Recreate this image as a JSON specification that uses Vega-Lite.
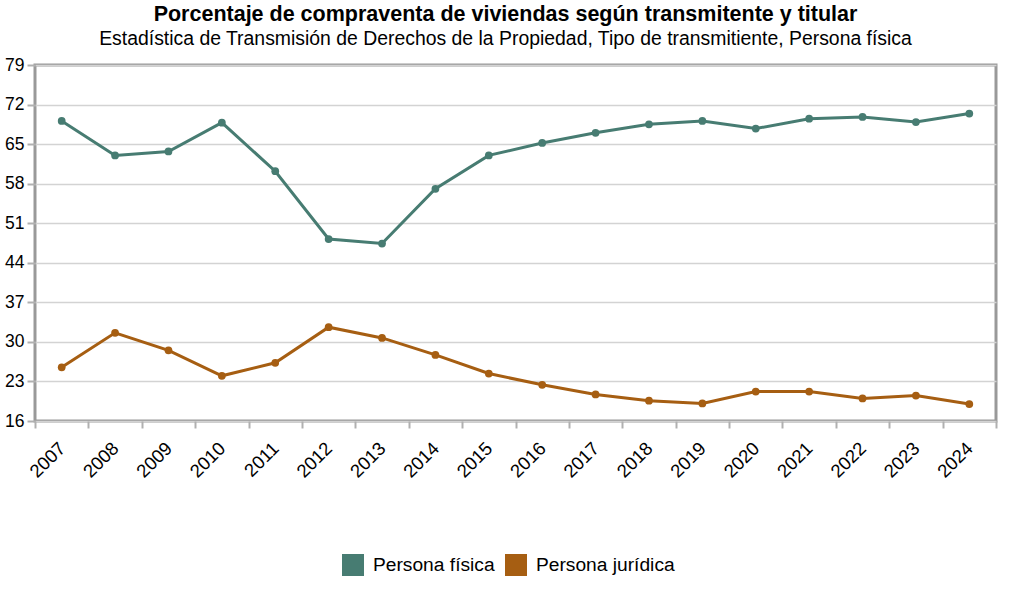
{
  "$schema": "https://vega.github.io/schema/vega-lite/v6.json",
  "width": 961,
  "height": 356,
  "autosize": {"type": "none"},
  "padding": {"left": 35, "top": 65, "right": 15, "bottom": 179},
  "background": "white",
  "title": {
    "text": "Porcentaje de compraventa de viviendas según transmitente y titular",
    "subtitle": "Estadística de Transmisión de Derechos de la Propiedad, Tipo de transmitiente, Persona física",
    "anchor": "middle",
    "frame": "group",
    "dx": -10,
    "offset": 8,
    "font": "Liberation Sans",
    "fontSize": 21.5,
    "fontWeight": "bold",
    "color": "#000000",
    "subtitleFont": "Liberation Sans",
    "subtitleFontSize": 19.4,
    "subtitleColor": "#000000",
    "subtitlePadding": 4
  },
  "data": {
    "values": [
      {"year": "2007", "serie": "Persona física", "valor": 69.1},
      {"year": "2008", "serie": "Persona física", "valor": 63.0},
      {"year": "2009", "serie": "Persona física", "valor": 63.7},
      {"year": "2010", "serie": "Persona física", "valor": 68.8},
      {"year": "2011", "serie": "Persona física", "valor": 60.2},
      {"year": "2012", "serie": "Persona física", "valor": 48.2},
      {"year": "2013", "serie": "Persona física", "valor": 47.4},
      {"year": "2014", "serie": "Persona física", "valor": 57.1},
      {"year": "2015", "serie": "Persona física", "valor": 63.0},
      {"year": "2016", "serie": "Persona física", "valor": 65.2},
      {"year": "2017", "serie": "Persona física", "valor": 67.0},
      {"year": "2018", "serie": "Persona física", "valor": 68.5},
      {"year": "2019", "serie": "Persona física", "valor": 69.1},
      {"year": "2020", "serie": "Persona física", "valor": 67.75},
      {"year": "2021", "serie": "Persona física", "valor": 69.5},
      {"year": "2022", "serie": "Persona física", "valor": 69.8},
      {"year": "2023", "serie": "Persona física", "valor": 68.9},
      {"year": "2024", "serie": "Persona física", "valor": 70.4},
      {"year": "2007", "serie": "Persona jurídica", "valor": 25.5},
      {"year": "2008", "serie": "Persona jurídica", "valor": 31.6},
      {"year": "2009", "serie": "Persona jurídica", "valor": 28.5},
      {"year": "2010", "serie": "Persona jurídica", "valor": 24.0},
      {"year": "2011", "serie": "Persona jurídica", "valor": 26.3},
      {"year": "2012", "serie": "Persona jurídica", "valor": 32.6},
      {"year": "2013", "serie": "Persona jurídica", "valor": 30.7},
      {"year": "2014", "serie": "Persona jurídica", "valor": 27.7},
      {"year": "2015", "serie": "Persona jurídica", "valor": 24.4},
      {"year": "2016", "serie": "Persona jurídica", "valor": 22.4},
      {"year": "2017", "serie": "Persona jurídica", "valor": 20.7},
      {"year": "2018", "serie": "Persona jurídica", "valor": 19.6},
      {"year": "2019", "serie": "Persona jurídica", "valor": 19.1},
      {"year": "2020", "serie": "Persona jurídica", "valor": 21.2},
      {"year": "2021", "serie": "Persona jurídica", "valor": 21.2},
      {"year": "2022", "serie": "Persona jurídica", "valor": 20.0},
      {"year": "2023", "serie": "Persona jurídica", "valor": 20.5},
      {"year": "2024", "serie": "Persona jurídica", "valor": 19.0}
    ]
  },
  "mark": {"type": "line", "strokeWidth": 3, "point": {"filled": true, "size": 60, "opacity": 1}},
  "encoding": {
    "x": {
      "field": "year",
      "type": "ordinal",
      "scale": {"type": "band", "paddingInner": 0, "paddingOuter": 0},
      "axis": {
        "title": null,
        "labelAngle": -45,
        "labelAlign": "right",
        "labelBaseline": "middle",
        "labelFont": "Liberation Sans",
        "labelFontSize": 18.5,
        "labelColor": "#000000",
        "labelPadding": 17,
        "tickBand": "extent",
        "tickColor": "#b0b0b0",
        "tickWidth": 2,
        "tickSize": 7,
        "domain": false,
        "grid": false
      }
    },
    "y": {
      "field": "valor",
      "type": "quantitative",
      "scale": {"domain": [16, 79], "nice": false, "zero": false},
      "axis": {
        "title": null,
        "values": [16, 23, 30, 37, 44, 51, 58, 65, 72, 79],
        "labelFont": "Liberation Sans",
        "labelFontSize": 17.5,
        "labelColor": "#000000",
        "labelPadding": 3,
        "tickColor": "#b0b0b0",
        "tickWidth": 2,
        "tickSize": 8,
        "domain": false,
        "grid": true,
        "gridColor": "#d3d3d3",
        "gridWidth": 1.5
      }
    },
    "color": {
      "field": "serie",
      "type": "nominal",
      "scale": {"domain": ["Persona física", "Persona jurídica"], "range": ["#477c72", "#a65e12"]},
      "legend": {
        "title": null,
        "orient": "none",
        "direction": "horizontal",
        "legendX": 307,
        "legendY": 489,
        "symbolType": "square",
        "symbolSize": 484,
        "symbolStrokeWidth": 0,
        "symbolOpacity": 1,
        "labelFont": "Liberation Sans",
        "labelFontSize": 19.2,
        "labelColor": "#000000",
        "labelOffset": 9,
        "columnPadding": 10
      }
    }
  },
  "config": {
    "view": {"stroke": "#999999", "strokeWidth": 3}
  }
}
